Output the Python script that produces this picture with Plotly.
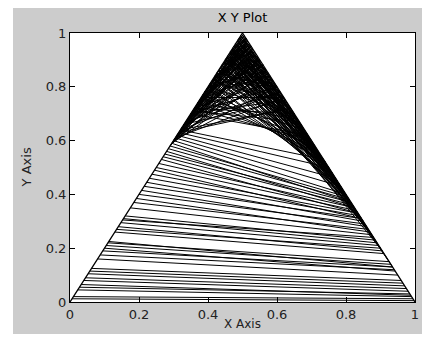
import plotly.graph_objects as go

# triangle outline (tent shape)
tri_x = [0.0, 0.5, 1.0]
tri_y = [0.0, 1.0, 0.0]

# each line joins the left edge (height *_left) to the right edge (height *_right)
# near-horizontal lines in the lower part
low_left = [0.012, 0.02, 0.045, 0.055, 0.065, 0.08, 0.09, 0.105, 0.115, 0.125,
            0.16, 0.175, 0.19, 0.2, 0.21, 0.22, 0.225, 0.26, 0.27, 0.28,
            0.295, 0.305, 0.31, 0.32, 0.35, 0.37, 0.385, 0.4, 0.415, 0.43,
            0.445, 0.46, 0.475, 0.49, 0.5, 0.515, 0.53, 0.54, 0.55, 0.56,
            0.57, 0.58, 0.59, 0.6, 0.61, 0.62, 0.63, 0.64]
low_right = [0.005, 0.012, 0.02, 0.03, 0.025, 0.04, 0.05, 0.06, 0.07, 0.08,
             0.1, 0.12, 0.13, 0.115, 0.14, 0.15, 0.13, 0.18, 0.2, 0.19,
             0.21, 0.24, 0.22, 0.23, 0.25, 0.27, 0.26, 0.29, 0.28, 0.31,
             0.3, 0.32, 0.33, 0.31, 0.34, 0.35, 0.33, 0.36, 0.37, 0.35,
             0.38, 0.39, 0.37, 0.4, 0.43, 0.46, 0.5, 0.53]

# lines falling from near the apex down to the right edge
fall_left = [0.70, 0.72, 0.74, 0.76, 0.78, 0.80, 0.82, 0.84, 0.86, 0.88,
             0.90, 0.92, 0.94, 0.96, 0.97, 0.95, 0.93, 0.91, 0.89, 0.87,
             0.985, 0.975, 0.965, 0.955, 0.945, 0.935, 0.925, 0.915, 0.905, 0.895,
             0.885, 0.99, 0.995, 0.98, 0.97, 0.96, 0.95, 0.94, 0.93, 0.92,
             0.91, 0.90, 0.89, 0.88, 0.87, 0.86, 0.85, 0.83, 0.81, 0.79,
             0.77, 0.99, 0.975, 0.955, 0.935, 0.915, 0.895, 0.985, 0.97, 0.955,
             0.94, 0.925, 0.91, 0.965, 0.95, 0.935, 0.92, 0.905, 0.99, 0.98,
             0.96, 0.945, 0.93, 0.915, 0.90, 0.875, 0.865]
fall_right = [0.62, 0.60, 0.58, 0.55, 0.52, 0.48, 0.44, 0.40, 0.36, 0.32,
              0.28, 0.24, 0.20, 0.16, 0.45, 0.50, 0.42, 0.38, 0.55, 0.47,
              0.30, 0.22, 0.35, 0.28, 0.60, 0.33, 0.52, 0.44, 0.19, 0.40,
              0.26, 0.13, 0.58, 0.50, 0.62, 0.40, 0.36, 0.56, 0.30, 0.48,
              0.60, 0.35, 0.27, 0.50, 0.58, 0.45, 0.40, 0.54, 0.50, 0.56,
              0.60, 0.70, 0.65, 0.68, 0.72, 0.66, 0.64, 0.42, 0.38, 0.46,
              0.33, 0.52, 0.29, 0.25, 0.41, 0.57, 0.37, 0.50, 0.47, 0.31,
              0.53, 0.43, 0.49, 0.34, 0.56, 0.44, 0.52]

# lines rising from the left edge up to the right edge near the apex
rise_left = [0.63, 0.61, 0.60, 0.59, 0.585, 0.58, 0.575, 0.60, 0.65, 0.70,
             0.75, 0.72, 0.80, 0.62, 0.66, 0.78, 0.68, 0.85, 0.90, 0.68,
             0.66, 0.64, 0.62, 0.70, 0.60, 0.66, 0.59, 0.74, 0.60, 0.69,
             0.63, 0.61, 0.60, 0.62, 0.70, 0.66, 0.76, 0.64, 0.61, 0.68,
             0.60, 0.72, 0.62, 0.60, 0.65, 0.63, 0.60, 0.58, 0.67]
rise_right = [0.72, 0.76, 0.80, 0.84, 0.88, 0.92, 0.96, 0.98, 0.94, 0.90,
              0.86, 0.97, 0.95, 0.93, 0.91, 0.89, 0.85, 0.99, 0.975, 0.965,
              0.82, 0.78, 0.99, 0.985, 0.97, 0.955, 0.945, 0.935, 0.925, 0.915,
              0.905, 0.895, 0.87, 0.83, 0.80, 0.75, 0.995, 0.98, 0.965, 0.95,
              0.94, 0.93, 0.92, 0.91, 0.90, 0.88, 0.86, 0.975, 0.96]

# crossing lines in the upper part
cross_left = [0.65, 0.68, 0.75, 0.80, 0.85, 0.90, 0.70, 0.78, 0.83, 0.88,
              0.93, 0.64, 0.66, 0.72, 0.87, 0.95, 0.98, 0.74, 0.79, 0.91,
              0.67, 0.69, 0.71, 0.73, 0.76, 0.77, 0.81, 0.82, 0.84, 0.86,
              0.89, 0.92, 0.94, 0.96, 0.97, 0.99, 0.78, 0.72, 0.68, 0.88,
              0.66, 0.70, 0.74, 0.80, 0.84, 0.90, 0.94, 0.97, 0.76, 0.82,
              0.86, 0.92]
cross_right = [0.85, 0.90, 0.95, 0.70, 0.80, 0.85, 0.75, 0.88, 0.66, 0.93,
               0.75, 0.72, 0.97, 0.82, 0.72, 0.90, 0.95, 0.68, 0.92, 0.64,
               0.78, 0.88, 0.67, 0.93, 0.76, 0.84, 0.97, 0.74, 0.90, 0.68,
               0.80, 0.70, 0.86, 0.76, 0.66, 0.80, 0.98, 0.70, 0.94, 0.62,
               0.90, 0.80, 0.98, 0.86, 0.70, 0.78, 0.68, 0.86, 0.64, 0.95,
               0.88, 0.98]

tick_vals = [0, 0.2, 0.4, 0.6, 0.8, 1]
tick_text = ["0", "0.2", "0.4", "0.6", "0.8", "1"]

FONT = "DejaVu Sans, Verdana, sans-serif"
GREY = "#cccccc"

seg_x, seg_y = [], []
for left, right in [(low_left, low_right), (fall_left, fall_right),
                    (rise_left, rise_right), (cross_left, cross_right)]:
    for a, b in zip(left, right):
        # a point at height h sits at x = h/2 on the left edge, 1 - h/2 on the right
        seg_x += [a / 2, 1 - b / 2, None]
        seg_y += [a, b, None]

fig = go.Figure()
fig.add_trace(go.Scatter(x=seg_x, y=seg_y, mode="lines",
                         line=dict(color="black", width=1), hoverinfo="skip"))
fig.add_trace(go.Scatter(x=tri_x, y=tri_y, mode="lines",
                         line=dict(color="black", width=1.3), hoverinfo="skip"))

axis_style = dict(
    range=[0, 1], tickvals=tick_vals, ticktext=tick_text,
    showline=True, linecolor="black", linewidth=1, mirror="ticks",
    ticks="inside", ticklen=5, tickcolor="black", tickwidth=1,
    showgrid=False, zeroline=False,
    tickfont=dict(family=FONT, size=13, color="#222"),
)

# the page body adds an 8px margin all round, so the figure is kept
# 16px shorter than the window to avoid any scrolling
fig.update_layout(
    width=422, height=326,
    margin=dict(l=62, r=15, t=25, b=32),
    paper_bgcolor=GREY, plot_bgcolor="white",
    showlegend=False,
    title=dict(text="X Y Plot", x=0.5, xref="paper", y=0.972, yanchor="middle",
               font=dict(family=FONT, size=13, color="black")),
    xaxis=axis_style,
    yaxis=axis_style,
    annotations=[
        dict(text="X Axis", xref="paper", yref="paper", x=0.5, y=-0.117, showarrow=False,
             xanchor="center", yanchor="bottom", font=dict(family=FONT, size=12, color="#222")),
        dict(text="Y Axis", xref="paper", yref="paper", x=-0.125, y=0.5, showarrow=False,
             textangle=-90, xanchor="center", yanchor="middle",
             font=dict(family=FONT, size=13, color="#222")),
    ],
    # white strip along the left edge, as in the screenshot
    shapes=[
        dict(type="rect", xref="paper", yref="paper", x0=-0.19, x1=-0.1652,
             y0=-0.2, y1=1.1, fillcolor="white", line_width=0, layer="above"),
    ],
)

fig.write_html("out.html")
